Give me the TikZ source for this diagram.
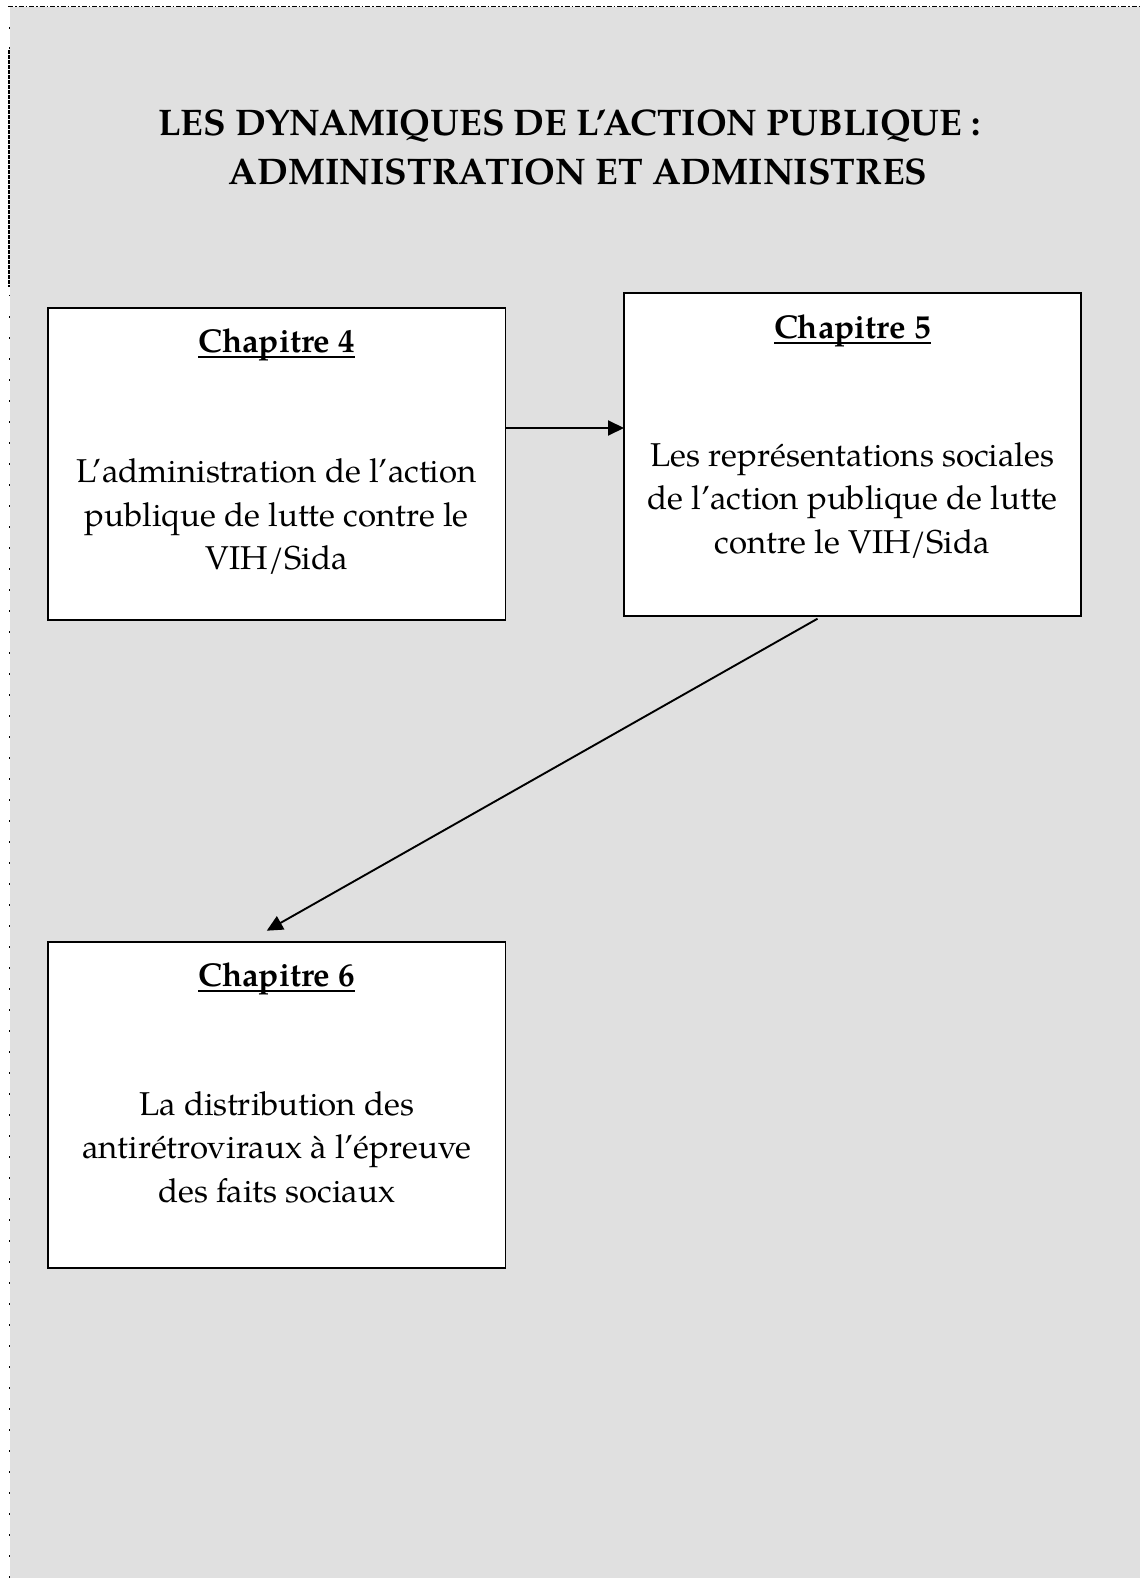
\documentclass[tikz,border=0pt]{standalone}
\usepackage{fontspec}
\setmainfont{TeX Gyre Pagella}
\usetikzlibrary{arrows.meta,calc}
\definecolor{bggray}{RGB}{224,224,224}
\newlength\ulwd
\newcommand\chapul[1]{\settowidth\ulwd{#1}\rlap{\rule[-5pt]{\ulwd}{1.8pt}}#1}
\begin{document}
\begin{tikzpicture}[x=1pt,y=-1pt,
  chapbox/.style={draw, line width=1.9pt, fill=white, inner sep=0pt, outer sep=0pt, anchor=north west},
  chaphead/.style={font=\bfseries\fontsize{33}{40}\selectfont, inner sep=0pt, anchor=base},
  chapbody/.style={font=\fontsize{33}{43.5}\selectfont, align=center, inner sep=0pt, anchor=base},
  titletext/.style={font=\bfseries\fontsize{37}{49}\selectfont, align=center, inner sep=0pt, anchor=base},
  arr/.style={line width=1.9pt, -{Triangle[length=16pt,width=15pt]}}]
\useasboundingbox (0,0) rectangle (1140,1578);
% page background and border
\fill[bggray] (10,7) rectangle (1140,1578);
\draw[line width=0.9pt, dash pattern=on 5pt off 2pt on 1.5pt off 2pt] (8,6) -- (1140,6);
\draw[line width=2pt, dash pattern=on 4pt off 1pt] (9.3,50) -- (9.3,287);
\draw[line width=1.3pt, dash pattern=on 1.5pt off 19.5pt] (9.3,295) -- (9.3,1578);
\draw[line width=1.3pt] (9.3,27) -- (9.3,29);
\draw[line width=1.3pt] (9.3,47) -- (9.3,49);
% title
\node[titletext] (title) at (578,185) {LES DYNAMIQUES DE L’ACTION PUBLIQUE :\hspace*{17pt}\\ADMINISTRATION ET ADMINISTRES};
% boxes
\node[chapbox, minimum width=457.5pt, minimum height=312.5pt] (b4) at (48,307.7) {};
\node[chapbox, minimum width=457pt, minimum height=322.4pt] (b5) at (624,293.3) {};
\node[chapbox, minimum width=457.5pt, minimum height=326.3pt] (b6) at (48,941.7) {};
% headings
\node[chaphead] (h4) at ($(b4.north)+(0,45)$) {\chapul{Chapitre 4}};
\node[chaphead] (h5) at ($(b5.north)+(0,45.5)$) {\chapul{Chapitre 5}};
\node[chaphead] (h6) at ($(b6.north)+(0,45)$) {\chapul{Chapitre 6}};
% bodies (anchor base = last line)
\node[chapbody] (t4) at ($(b4.north)+(0,262)$) {L’administration de l’action\\publique de lutte contre le\\VIH/Sida};
\node[chapbody] (t5) at ($(b5.north)+(0,260)$) {Les représentations sociales\\de l’action publique de lutte\\contre le VIH/Sida};
\node[chapbody] (t6) at ($(b6.north)+(0,260.5)$) {La distribution des\\antirétroviraux à l’épreuve\\des faits sociaux};
% connectors
\coordinate (r1) at (0,428);
\draw[arr] (b4.east |- r1) -- (b5.west |- r1);
\draw[arr] ($(b5.south)+(-35,3)$) -- ($(b6.north)+(-10,-11)$);
\end{tikzpicture}
\end{document}
